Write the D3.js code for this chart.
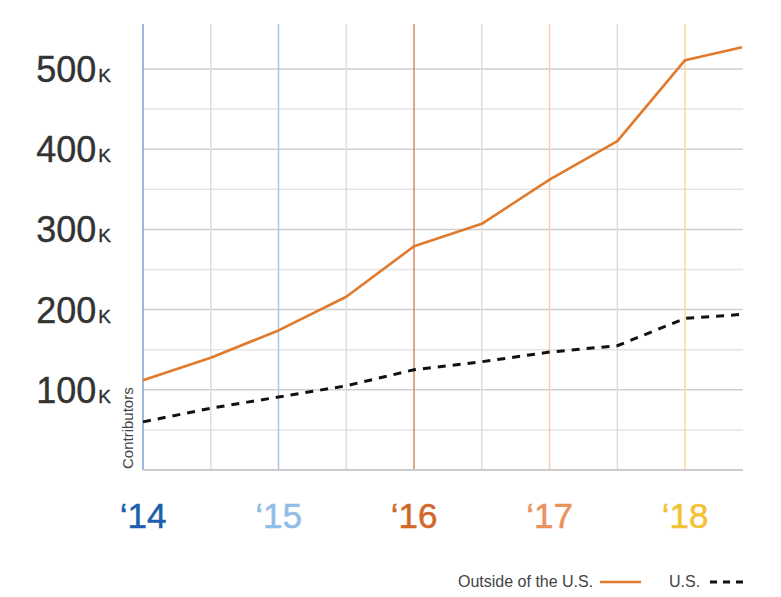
<!DOCTYPE html>
<html>
<head>
<script src="https://cdnjs.cloudflare.com/ajax/libs/d3/7.8.5/d3.min.js"></script>
<style>
  body { margin: 0; background: #fff; }
</style>
</head>
<body>
<script>

// half-year steps from early 2014 to mid 2018
var periods = [2014.0, 2014.5, 2015.0, 2015.5, 2016.0, 2016.5, 2017.0, 2017.5, 2018.0, 2018.42];
var outsideUS = [112, 140, 174, 216, 279, 307, 362, 410, 511, 527];   // thousands
var usOnly    = [60, 77, 91, 105, 125, 135, 147, 155, 189, 194];

var yearTicks  = [2014, 2015, 2016, 2017, 2018];
var yearLabels = ["\u201814", "\u201815", "\u201816", "\u201817", "\u201818"];
var yearColors = ["#1d5fae", "#92bce8", "#d2672a", "#ea925a", "#f2c232"];
var yearLineColors = ["#7ea3cf", "#a8c6e4", "#d98a60", "#f6cdb0", "#f8dc96"];
var halfTicks = [2014.5, 2015.5, 2016.5, 2017.5];
var yTicks = [100, 200, 300, 400, 500];
var yMinor = [50, 150, 250, 350, 450];

var width = 781, height = 597;
var plotLeft = 143, plotRight = 742, plotTop = 24, plotBottom = 470;

var svg = d3.select("body").append("svg")
    .attr("width", width)
    .attr("height", height);

var x = d3.scaleLinear().domain([2014, 2018.42]).range([plotLeft, plotRight]);
var y = d3.scaleLinear().domain([0, 500]).range([plotBottom, 69]);

// minor horizontal grid
svg.selectAll(".hminor").data(yMinor).enter().append("line")
    .attr("x1", plotLeft).attr("x2", plotRight + 1)
    .attr("y1", function(d){ return y(d); })
    .attr("y2", function(d){ return y(d); })
    .attr("stroke", "#e4e4e4").attr("stroke-width", 1.5);

// major horizontal grid
svg.selectAll(".hmajor").data(yTicks).enter().append("line")
    .attr("x1", plotLeft).attr("x2", plotRight + 1)
    .attr("y1", function(d){ return y(d); })
    .attr("y2", function(d){ return y(d); })
    .attr("stroke", "#cfcfcf").attr("stroke-width", 1.5);

// half-year verticals
svg.selectAll(".vhalf").data(halfTicks).enter().append("line")
    .attr("x1", function(d){ return x(d); })
    .attr("x2", function(d){ return x(d); })
    .attr("y1", plotTop).attr("y2", plotBottom)
    .attr("stroke", "#dedede").attr("stroke-width", 1.5);

// year verticals
svg.selectAll(".vyear").data(yearTicks).enter().append("line")
    .attr("x1", function(d){ return x(d); })
    .attr("x2", function(d){ return x(d); })
    .attr("y1", plotTop).attr("y2", plotBottom)
    .attr("stroke", function(d, i){ return yearLineColors[i]; })
    .attr("stroke-width", 1.5);

// bottom axis line
svg.append("line")
    .attr("x1", plotLeft).attr("x2", plotRight + 1)
    .attr("y1", plotBottom).attr("y2", plotBottom)
    .attr("stroke", "#cccccc").attr("stroke-width", 2);

// y labels
var yl = svg.selectAll(".ylab").data(yTicks).enter().append("text")
    .attr("x", 111)
    .attr("y", function(d){ return y(d) + 13; })
    .attr("text-anchor", "end")
    .attr("font-family", "Liberation Sans, Arial, sans-serif")
    .attr("fill", "#333")
    .attr("stroke", "#333").attr("stroke-width", 0.4);
yl.append("tspan").attr("font-size", "36px").text(function(d){ return d; });
yl.append("tspan").attr("font-size", "19px").attr("dx", 2).text("K");

// year labels
svg.selectAll(".xlab").data(yearTicks).enter().append("text")
    .attr("x", function(d){ return x(d); })
    .attr("y", 528)
    .attr("text-anchor", "middle")
    .attr("font-family", "Liberation Sans Narrow, Arial Narrow, sans-serif")
    .attr("font-size", "35px")
    .attr("fill", function(d, i){ return yearColors[i]; })
    .attr("stroke", function(d, i){ return yearColors[i]; })
    .attr("stroke-width", 0.5)
    .text(function(d, i){ return yearLabels[i]; });

// axis title
svg.append("text")
    .attr("transform", "translate(133," + (plotBottom - 1) + ") rotate(-90)")
    .attr("font-family", "Liberation Sans, Arial, sans-serif")
    .attr("font-size", "15px")
    .attr("fill", "#444")
    .text("Contributors");

var line = d3.line()
    .x(function(d, i){ return x(periods[i]); })
    .y(function(d){ return y(d); });

svg.append("path")
    .datum(usOnly)
    .attr("d", line)
    .attr("fill", "none")
    .attr("stroke", "#111")
    .attr("stroke-width", 3)
    .attr("stroke-dasharray", "8,7");

svg.append("path")
    .datum(outsideUS)
    .attr("d", line)
    .attr("fill", "none")
    .attr("stroke", "#e07a2c")
    .attr("stroke-width", 2.6)
    .attr("stroke-linejoin", "round");

// legend
var lg = svg.append("g").attr("font-family", "Liberation Sans, Arial, sans-serif")
    .attr("font-size", "16px").attr("fill", "#444");
lg.append("text").attr("x", 458).attr("y", 587).text("Outside of the U.S.");
lg.append("line").attr("x1", 600).attr("x2", 641).attr("y1", 582).attr("y2", 582)
    .attr("stroke", "#e07a2c").attr("stroke-width", 2.5);
lg.append("text").attr("x", 669).attr("y", 587).text("U.S.");
lg.append("line").attr("x1", 710).attr("x2", 746).attr("y1", 582).attr("y2", 582)
    .attr("stroke", "#111").attr("stroke-width", 3).attr("stroke-dasharray", "7,6");

</script>
</body>
</html>
